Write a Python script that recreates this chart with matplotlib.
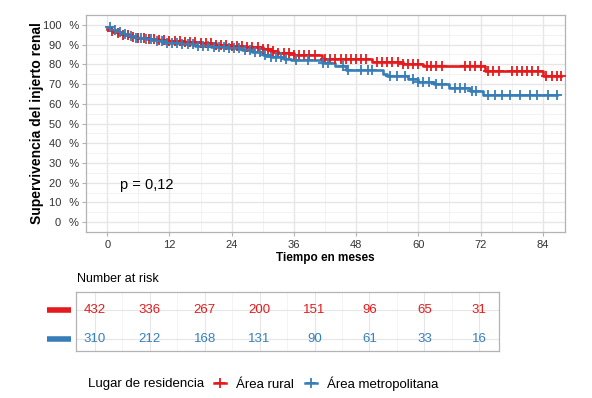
import numpy as np
import matplotlib
matplotlib.use("Agg")
import matplotlib.pyplot as plt
from matplotlib.lines import Line2D

plt.rcParams['font.family'] = ['Liberation Sans', 'DejaVu Sans']

# --- data ---
groups = ['Área rural', 'Área metropolitana']
colors = ['#E41A1C', '#377EB8']

rural_t = [0, 1, 2, 3, 4.5, 6, 8, 10, 12, 15, 18, 21, 24, 27, 30, 31.5, 33, 36,
           41.5, 51, 57, 61, 72.8, 84]
rural_s = [98.0, 97.0, 96.0, 95.0, 94.0, 93.3, 92.8, 92.2, 91.7, 91.2, 90.6, 90.0,
           89.4, 88.8, 88.0, 86.8, 85.5, 84.8, 82.8, 81.0, 80.2, 79.2, 76.6, 74.3]
rural_cens = [1, 2, 3, 4, 5, 6, 7, 8, 9, 10, 11, 12, 13, 14, 15, 16, 17, 18, 19, 20,
              21, 22, 23, 24, 25, 26, 27, 28, 29, 30, 31, 32, 33, 34, 35, 36, 37, 38,
              39, 40, 42, 43, 44, 45, 46, 47, 48, 49, 50, 52, 53, 54, 55, 56, 57, 58,
              59, 60, 61.6, 62.5, 63.5, 64.5, 69, 70, 71, 72, 73.5, 74.5, 75.5, 78,
              79, 80, 81, 82, 83, 84.7, 85.7, 86.7, 87.6]

metro_t = [0, 0.8, 2, 3, 4, 5.5, 7.5, 9.5, 11, 14, 17, 20, 23, 26, 28, 30, 31.5, 34,
           35.5, 41.5, 44, 46, 53.2, 54, 58, 60, 63, 66, 70, 72.4]
metro_s = [99.0, 97.5, 96.3, 95.2, 94.2, 93.5, 92.7, 91.8, 90.8, 90.2, 89.5, 88.9,
           88.2, 87.2, 86.0, 84.8, 83.5, 82.8, 82.0, 80.5, 78.9, 77.3, 75.2, 74.1,
           72.5, 70.8, 69.8, 68.0, 66.5, 64.2]
metro_cens = [0.5, 1.5, 2.5, 3.5, 4.5, 5.5, 6.5, 7.5, 8.5, 9.5, 10.5, 11.5, 12.5,
              13.5, 14.5, 15.5, 16.5, 17.5, 18.5, 19.5, 20.5, 21.5, 22.5, 23.5, 24.5,
              25.5, 26.5, 27.5, 28.5, 29.5, 30.5, 31.5, 32.5, 33.5, 34.5, 36.5, 38.8,
              41.7, 42.6, 45.5, 46.5, 49, 50.3, 51, 54.5, 55.8, 57.4, 59, 60, 61, 62,
              63.5, 64.5, 67, 68, 69, 70.3, 71.2, 73.4, 74.8, 76.1, 77.6, 79.6, 81.5,
              82.9, 85, 86.7]

risk_times = [0, 12, 24, 36, 48, 60, 72, 84]
risk_rural = [432, 336, 267, 200, 151, 96, 65, 31]
risk_metro = [310, 212, 168, 131, 90, 61, 33, 16]

p_text = 'p = 0,12'

curves = [(rural_t, rural_s, rural_cens), (metro_t, metro_s, metro_cens)]
risk_rows = [risk_rural, risk_metro]

XLIM = (-4.1, 88.3)
border = '#B3B3B3'
grid_major = '#E6E6E6'
grid_minor = '#F0F0F0'

fig = plt.figure(figsize=(5.92, 3.98), dpi=100)

# ---------------- survival plot ----------------
ax = fig.add_axes([86 / 592, 1 - 232 / 398, 479 / 592, 217 / 398])

for (t, s, cens), col in zip(curves, colors):
    t = np.asarray(t, float)
    s = np.asarray(s, float)
    cens = np.asarray(cens, float)
    end = max(t[-1], cens.max())
    ax.step(np.append(t, end), np.append(s, s[-1]), where='post',
            color=col, lw=1.9, zorder=3)
    idx = np.searchsorted(t, cens, side='right') - 1
    ax.plot(cens, s[idx], ls='none', marker='+', color=col,
            markersize=6.5, mew=1.3, zorder=4)

ax.set_xlim(*XLIM)
ax.set_ylim(-5, 105)
ax.set_xticks(risk_times)
ax.set_xticks(np.arange(6, 90, 12), minor=True)
ax.set_yticks(np.arange(0, 101, 10))
ax.set_yticks(np.arange(5, 100, 10), minor=True)
ax.set_yticklabels([f'{v}\u2002\u2009%' for v in range(0, 101, 10)])
ax.grid(which='major', color=grid_major, lw=1.0, zorder=0)
ax.grid(which='minor', color=grid_minor, lw=0.6, zorder=0)
ax.set_axisbelow(True)
ax.tick_params(which='major', length=3, color=border, labelsize=8,
               labelcolor='#333333', pad=2)
ax.tick_params(axis='x', pad=3)
ax.tick_params(which='minor', length=0)
for sp in ax.spines.values():
    sp.set_color(border)
    sp.set_linewidth(0.9)

ax.set_xlabel('Tiempo en meses', fontsize=8.5, fontweight='bold', labelpad=1)
ax.set_ylabel('Supervivencia del injerto renal', fontsize=10, fontweight='bold')
ax.yaxis.set_label_coords(-0.088, 0.5)
ax.text(2.5, 18.8, p_text, fontsize=10.5, ha='left', va='center')

# ---------------- risk table ----------------
tab = fig.add_axes([76 / 592, 1 - 351 / 398, 423 / 592, 59 / 398])
tab.set_xlim(*XLIM)
tab.set_ylim(0.554, 2.66)
tab.set_xticks(risk_times)
tab.set_xticks(np.arange(6, 90, 12), minor=True)
tab.set_yticks([1, 2])
tab.grid(which='major', color=grid_major, lw=0.8, zorder=0)
tab.grid(which='minor', axis='x', color=grid_minor, lw=0.5, zorder=0)
tab.tick_params(which='both', length=0, labelbottom=False, labelleft=False)
for sp in tab.spines.values():
    sp.set_color(border)
    sp.set_linewidth(0.9)

for row, (vals, col) in enumerate(zip(risk_rows, colors)):
    ypos = 2 - row
    for t, n in zip(risk_times, vals):
        tab.text(t, ypos, str(n), color=col, fontsize=9.5, ha='center', va='center')
    tab.plot([-0.0686, -0.0118], [ypos, ypos], color=col, lw=4,
             solid_capstyle='butt', transform=tab.get_yaxis_transform(),
             clip_on=False)

fig.text(77 / 592, 1 - 279.5 / 398, 'Number at risk', fontsize=9, ha='left',
         va='center')

# ---------------- legend ----------------
fig.text(88 / 592, 1 - 383.5 / 398, 'Lugar de residencia', fontsize=9.5,
         ha='left', va='center')
handles = [Line2D([], [], color=c, lw=1.8, marker='+', markersize=6.5, mew=1.3)
           for c in colors]
fig.legend(handles, groups, loc='center left',
           bbox_to_anchor=(214 / 592, 1 - 383.5 / 398), ncol=2, frameon=False,
           fontsize=9.5, handlelength=0.9, handletextpad=0.75, columnspacing=0.85,
           borderpad=0, borderaxespad=0)

fig.savefig('out.png', dpi=100)
